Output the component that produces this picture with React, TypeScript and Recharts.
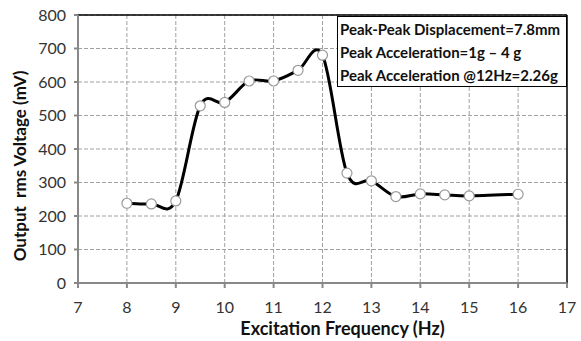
import { LineChart, Line, XAxis, YAxis, CartesianGrid, ReferenceLine } from 'recharts'

const frequency = [8, 8.5, 9, 9.5, 10, 10.5, 11, 11.5, 12, 12.5, 13, 13.5, 14, 14.5, 15, 16]
const voltage = [238, 236, 245, 529, 539, 603, 603, 635, 680, 328, 305, 258, 266, 263, 260, 265]
const xTicks = [7, 8, 9, 10, 11, 12, 13, 14, 15, 16, 17]
const yTicks = [0, 100, 200, 300, 400, 500, 600, 700, 800]
const notes = [
  'Peak-Peak Displacement=7.8mm',
  'Peak Acceleration=1g \u2013 4 g',
  'Peak Acceleration @12Hz=2.26g',
]

const chartData = frequency.map((f, i) => ({ f, v: voltage[i] }))

// Excel-style smoothed line (Catmull-Rom through the points)
const smoothCurve = (context: any) => {
  let pts: number[][] = []
  return {
    areaStart() {},
    areaEnd() {},
    lineStart() { pts = [] },
    point(x: number, y: number) { pts.push([+x, +y]) },
    lineEnd() {
      if (!pts.length) return
      context.moveTo(pts[0][0], pts[0][1])
      for (let i = 0; i < pts.length - 1; i++) {
        const p0 = pts[Math.max(i - 1, 0)]
        const p1 = pts[i]
        const p2 = pts[i + 1]
        const p3 = pts[Math.min(i + 2, pts.length - 1)]
        context.bezierCurveTo(
          p1[0] + (p2[0] - p0[0]) / 6, p1[1] + (p2[1] - p0[1]) / 6,
          p2[0] - (p3[0] - p1[0]) / 6, p2[1] - (p3[1] - p1[1]) / 6,
          p2[0], p2[1]
        )
      }
    },
  }
}

const font = 'Lato, "Open Sans", sans-serif'

const XTitle = ({ viewBox }: any) => (
  <text x={viewBox.x + viewBox.width / 2 + 20} y={335} textAnchor="middle"
    fontSize={18} fontWeight={700} fill="#111" fontFamily={font}>
    Excitation Frequency (Hz)
  </text>
)

const YTitle = () => (
  <text x={0} y={0} transform="translate(26, 166) rotate(-90)" textAnchor="middle"
    fontSize={17} fontWeight={700} fill="#111" fontFamily={font} style={{ whiteSpace: 'pre' }}>
    {'Output  rms Voltage (mV)'}
  </text>
)

const App = () => {
  return (
    <div style={{ position: 'absolute', left: 0, top: 0, width: 581, height: 341, background: '#fff', fontFamily: font }}>
      <LineChart width={581} height={341} data={chartData} margin={{ top: 15, right: 14, bottom: 0, left: 0 }}>
        <CartesianGrid stroke="#a0a0a0" strokeDasharray="4 2" verticalValues={[8, 9, 10, 11, 12, 13, 14, 15, 16]} />
        <XAxis
          dataKey="f"
          type="number"
          domain={[7, 17]}
          ticks={xTicks}
          height={58}
          tick={{ fontSize: 16, fill: '#333', fontFamily: font }}
          tickSize={5}
          tickMargin={14}
          stroke="#888"
          strokeWidth={2}
          label={<XTitle />}
        />
        <YAxis
          type="number"
          domain={[0, 800]}
          ticks={yTicks}
          width={78}
          tick={{ fontSize: 16, fill: '#333', fontFamily: font }}
          tickSize={4}
          tickMargin={8}
          stroke="#888"
          strokeWidth={2}
          label={<YTitle />}
        />
        <ReferenceLine y={800} stroke="#000" strokeWidth={1.5} />
        <ReferenceLine x={17} stroke="#000" strokeWidth={1.5} />
        <Line
          dataKey="v"
          type={smoothCurve as any}
          stroke="#000"
          strokeWidth={3}
          dot={{ r: 5, fill: '#fff', stroke: '#999', strokeWidth: 1.2 }}
          activeDot={false}
          isAnimationActive={false}
        />
      </LineChart>
      <div
        style={{
          position: 'absolute', left: 337, top: 16, width: 226, height: 68,
          border: '1.5px solid #000', background: '#fff', padding: '1px 0 0 2px',
          fontSize: 15, fontWeight: 700, lineHeight: '23px', color: '#111', whiteSpace: 'nowrap',
        }}
      >
        {notes.map(n => <div key={n}>{n}</div>)}
      </div>
    </div>
  )
}

export default App
